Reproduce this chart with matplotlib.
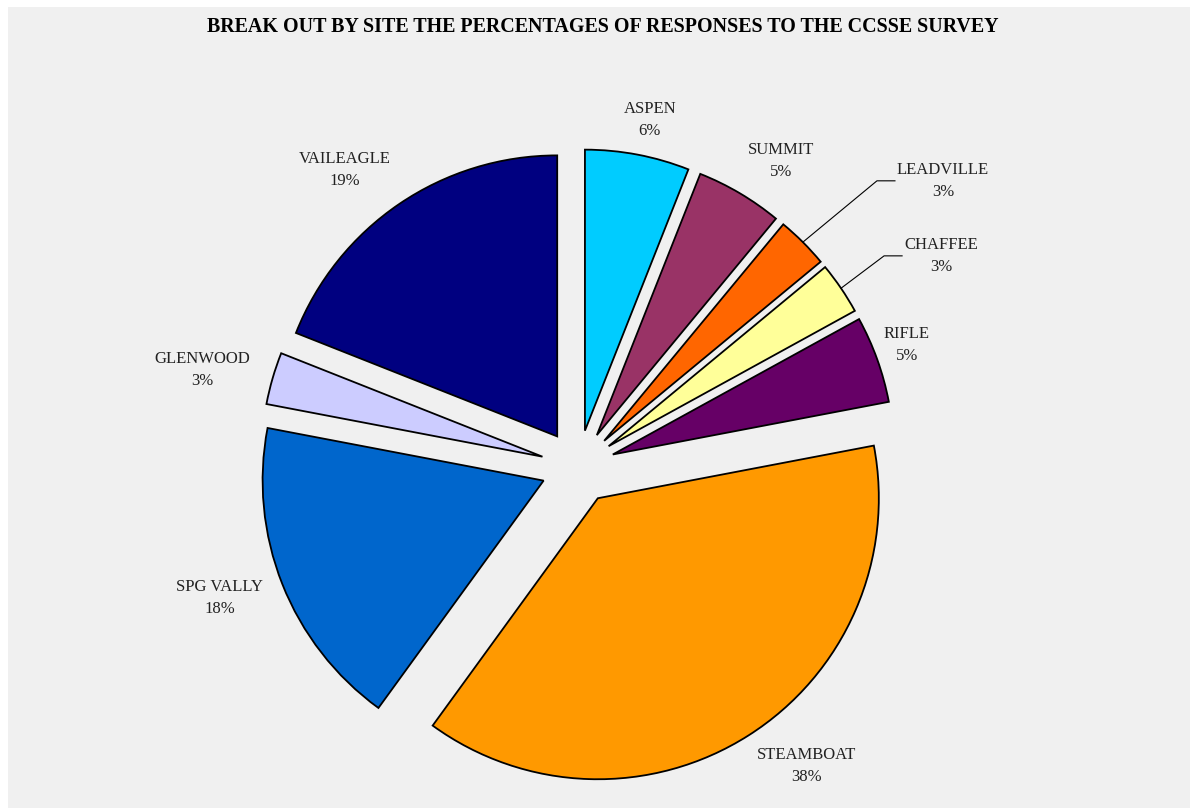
import numpy as np
import matplotlib
matplotlib.use("Agg")
import matplotlib.pyplot as plt
from matplotlib.patches import Rectangle

# responses by site, clockwise from 12 o'clock
sites = ["ASPEN", "SUMMIT", "LEADVILLE", "CHAFFEE", "RIFLE",
         "STEAMBOAT", "SPG VALLY", "GLENWOOD", "VAILEAGLE"]
pct = [6, 5, 3, 3, 5, 38, 18, 3, 19]

colors = ["#00ccff", "#993366", "#ff6600", "#ffff99", "#660066",
          "#ff9900", "#0066cc", "#ccccff", "#000080"]

title = "BREAK OUT BY SITE THE PERCENTAGES OF RESPONSES TO THE CCSSE SURVEY"

W, H = 1190, 808
cx, cy, R = 578, H - 467, 281
gap = 37  # pie() shifts wedges by this many data units

# label placement: distance from the wedge tip (in radii) and a turn (deg)
# away from the wedge's mid angle; two small slices get leader lines
label_dist = [1.13, 1.175, 1.52, 1.363, 1.117, 1.207, 1.225, 1.25, 1.212]
label_turn = [-1.0, -3.3, -7.5, -4.4, 0.6, 5.5, -1.7, 1.9, 4.3]
leader = ["LEADVILLE", "CHAFFEE"]

plt.rcParams['font.family'] = ['Liberation Serif', 'DejaVu Serif']

fig = plt.figure(figsize=(W / 100, H / 100), dpi=100, facecolor="white")
ax = fig.add_axes([0, 0, 1, 1])

ax.add_patch(Rectangle((8, 0), W - 8, H - 7, facecolor="#f0f0f0",
                       edgecolor="none", zorder=0))

wedges, _ = ax.pie(pct, colors=colors, startangle=90, counterclock=False,
                   center=(cx, cy), radius=R, explode=[gap] * len(pct),
                   wedgeprops=dict(edgecolor="black", linewidth=1.3),
                   frame=True)
ax.set_xlim(0, W)
ax.set_ylim(0, H)
ax.set_aspect("equal")
ax.axis("off")

renderer = fig.canvas.get_renderer()
for w, name, p, d, turn in zip(wedges, sites, pct, label_dist, label_turn):
    mid = np.deg2rad((w.theta1 + w.theta2) / 2)
    ang = mid + np.deg2rad(turn)
    ox, oy = w.center
    lx, ly = ox + d * R * np.cos(ang), oy + d * R * np.sin(ang)
    t = ax.text(lx, ly, "%s\n%d%%" % (name, p), ha="center", va="center",
                fontsize=12, color="#222222", linespacing=1.5, zorder=4)
    if name in leader:
        bb = t.get_window_extent(renderer).transformed(ax.transData.inverted())
        x0 = bb.x0 - 2
        ax.plot([ox + R * np.cos(mid), x0 - 18, x0], [oy + R * np.sin(mid), ly, ly],
                color="black", lw=0.8, zorder=3)

ax.text(W / 2 + 8, H - 27, title, ha="center", va="center",
        fontsize=14.4, fontweight="bold", color="black")

fig.savefig("out.png", dpi=100, facecolor="white")
